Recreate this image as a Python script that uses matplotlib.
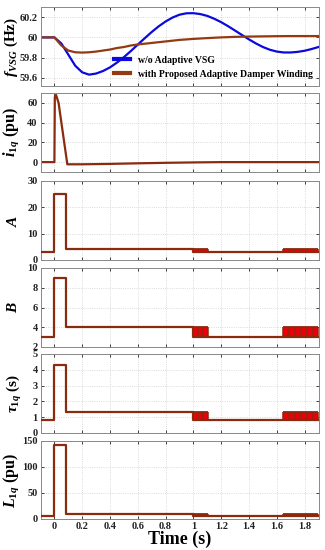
import numpy as np
import matplotlib
matplotlib.use('Agg')
import matplotlib.pyplot as plt

plt.rcParams['font.family'] = 'Liberation Serif'
plt.rcParams['font.weight'] = 'bold'
plt.rcParams['mathtext.fontset'] = 'custom'
plt.rcParams['mathtext.it'] = 'Liberation Serif:bold:italic'
plt.rcParams['mathtext.rm'] = 'Liberation Serif:bold'
plt.rcParams['mathtext.bf'] = 'Liberation Serif:bold'

# frequency, w/o adaptive VSG
t_blue = [-0.1, 0.0, 0.05, 0.1, 0.15, 0.2, 0.25, 0.3, 0.35, 0.4, 0.45, 0.5, 0.55, 0.6,
          0.65, 0.7, 0.75, 0.8, 0.85, 0.9, 0.95, 1.0, 1.05, 1.1, 1.15, 1.2, 1.25, 1.3,
          1.35, 1.4, 1.45, 1.5, 1.55, 1.6, 1.65, 1.7, 1.75, 1.8, 1.85, 1.9]
f_blue = [60.0, 60.0, 59.94, 59.83, 59.72, 59.655, 59.632, 59.643, 59.668, 59.704, 59.751,
          59.805, 59.865, 59.929, 59.992, 60.053, 60.109, 60.157, 60.196, 60.224, 60.238,
          60.239, 60.23, 60.212, 60.184, 60.15, 60.11, 60.067, 60.023, 59.98, 59.94,
          59.905, 59.878, 59.86, 59.851, 59.851, 59.857, 59.868, 59.885, 59.905]
# frequency, proposed adaptive damper winding
t_brown = [-0.1, 0.0, 0.05, 0.1, 0.15, 0.2, 0.25, 0.3, 0.35, 0.4, 0.45, 0.5, 0.55, 0.6,
           0.7, 0.8, 0.9, 1.0, 1.1, 1.2, 1.3, 1.4, 1.5, 1.6, 1.7, 1.8, 1.9]
f_brown = [60.0, 60.0, 59.92, 59.87, 59.853, 59.85, 59.853, 59.86, 59.87, 59.88, 59.895,
           59.905, 59.92, 59.93, 59.945, 59.96, 59.975, 59.985, 59.993, 60.0, 60.005,
           60.008, 60.01, 60.012, 60.013, 60.013, 60.013]

# i1q
t_i = [-0.1, 0.0, 0.003, 0.012, 0.03, 0.093, 0.2, 0.4, 0.6, 0.8, 1.0, 1.2, 1.9]
i_1q = [0, 0, 66, 68, 60, -2.2, -2.2, -1.8, -1.2, -0.7, -0.3, 0, 0]

# step parameters: levels before, during spike, middle, after 1.1 s
t_seg = [-0.1, 0.0, 0.085, 1.0, 1.9]
A_vals = [3, 25, 4, 3, 3]
B_vals = [3, 9, 4, 3, 3]
tau_vals = [0.85, 4.3, 1.3, 0.85, 0.85]
L_vals = [5, 143, 9, 5, 5]
# chattering windows (switching edges)
chatter_edges = [[1.0, 1.035, 1.07, 1.105],
                 [1.645, 1.688, 1.731, 1.774, 1.817, 1.86, 1.9]]

blue = '#0a0adc'
brown = '#943a12'
dred = '#8a2a0e'
red = '#e8000a'

fig = plt.figure(figsize=(3.25, 5.5), dpi=100)
W, H = 325., 550.
tops = [7, 93, 181, 268, 354, 441]
bots = [86, 172, 260, 347, 433, 519]
axes = []
for tp, bt in zip(tops, bots):
    ax = fig.add_axes([40.5 / W, 1 - bt / H, 278 / W, (bt - tp) / H])
    ax.set_xlim(-0.1, 1.9)
    ax.set_xticks(np.arange(0, 1.81, 0.2))
    ax.grid(True, color='#cfcfcf', linestyle=':', linewidth=0.6)
    ax.tick_params(direction='in', top=True, right=True, length=2.5, width=0.6,
                   labelsize=7.5, pad=2, colors='#222222')
    for s in ax.spines.values():
        s.set_color('#888888')
        s.set_linewidth(0.7)
    ax.set_axisbelow(True)
    axes.append(ax)

for ax in axes[:-1]:
    ax.set_xticklabels([])


def ylab(ax, text, xpix, size=11):
    ax.set_ylabel(text, fontsize=size, fontweight='bold')
    ax.yaxis.label.set_va('center')
    ax.yaxis.set_label_coords((xpix - 40.5) / 278, 0.5)


# panel 1
ax = axes[0]
ax.plot(t_blue, f_blue, color=blue, lw=1.6, label='w/o Adaptive VSG')
ax.plot(t_brown, f_brown, color=brown, lw=1.6, label='with Proposed Adaptive Damper Winding')
ax.set_ylim(59.52, 60.3)
ax.set_yticks([59.6, 59.8, 60, 60.2])
ax.set_yticklabels(['59.6', '59.8', '60', '60.2'])
ylab(ax, r'$f_{VSG}$ (Hz)', 11)
ax.legend(loc='lower right', frameon=False, handlelength=1.6,
          handleheight=0.6, borderaxespad=0.2, labelspacing=0.5,
          bbox_to_anchor=(1.0, 0.02), prop={'weight': 'bold', 'size': 7})
for h in ax.get_legend().get_lines():
    h.set_linewidth(3)

# panel 2
ax = axes[1]
ax.plot(t_i, i_1q, color=dred, lw=1.6)
ax.set_ylim(-10, 70)
ax.set_yticks([0, 20, 40, 60])
ylab(ax, r'$i_{1q}$ (pu)', 11, 11.5)


def step_panel(ax, vals):
    low, mid = vals[3], vals[2]
    for edges in chatter_edges:
        ax.fill_between([edges[0], edges[-1]], low, mid, color=red, lw=0, zorder=2)
        ax.vlines(edges, low, mid, color=dred, lw=1.1, zorder=3)
        ax.hlines([low, mid], edges[0], edges[-1], color=dred, lw=1.3, zorder=3)
    ax.step(t_seg, vals, where='post', color=dred, lw=1.6, zorder=4)


step_panel(axes[2], A_vals)
axes[2].set_ylim(0, 30)
axes[2].set_yticks([0, 10, 20, 30])
ylab(axes[2], r'$A$', 13)

step_panel(axes[3], B_vals)
axes[3].set_ylim(2, 10)
axes[3].set_yticks([2, 4, 6, 8, 10])
ylab(axes[3], r'$B$', 13)

step_panel(axes[4], tau_vals)
axes[4].set_ylim(0, 5)
axes[4].set_yticks([0, 1, 2, 3, 4, 5])
ylab(axes[4], r'$\tau_{1q}$ (s)', 14)

step_panel(axes[5], L_vals)
axes[5].set_ylim(0, 150)
axes[5].set_yticks([0, 50, 100, 150])
ylab(axes[5], r'$L_{1q}$ (pu)', 11, 11.5)
axes[5].set_xticklabels(['0', '0.2', '0.4', '0.6', '0.8', '1', '1.2', '1.4', '1.6', '1.8'])
axes[5].set_xlabel('Time (s)', fontsize=13, labelpad=0, fontweight='bold')

for ax in axes:
    for lab in ax.get_xticklabels() + ax.get_yticklabels():
        lab.set_fontweight('bold')

fig.savefig('out.png', dpi=100)
